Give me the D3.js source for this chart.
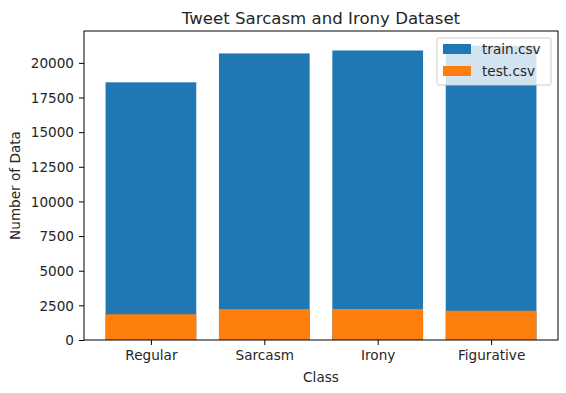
<!DOCTYPE html>
<html><head><meta charset="utf-8">
<script src="https://cdn.jsdelivr.net/npm/d3@7"></script>
<style>body{margin:0;background:#fff}svg{display:block}text{font-family:"DejaVu Sans",sans-serif;fill:#262626}</style>
</head><body>
<svg id="c" width="566" height="393"></svg>
<script>
const categories = ["Regular", "Sarcasm", "Irony", "Figurative"];
const trainValues = [18595, 20681, 20894, 21238];
const testValues = [1859, 2230, 2240, 2110];
const yTicks = [0, 2500, 5000, 7500, 10000, 12500, 15000, 17500, 20000];
const seriesNames = ["train.csv", "test.csv"];
const colors = ["#1f77b4", "#ff7f0e"];

const svg = d3.select("#c");
const L = 84, R = 558, T = 31, B = 340;
const FS = 13.6;

const x = d3.scaleLinear().domain([-0.59, 3.59]).range([L, R]);
const yMax = d3.max(trainValues) * 1.05;
const y = d3.scaleLinear().domain([0, yMax]).range([B, T]);
const bw = 0.8;

const g = svg.append("g");
[trainValues, testValues].forEach((vals, si) => {
  g.selectAll(null).data(vals).enter().append("rect")
    .attr("x", (d, i) => x(i - bw / 2))
    .attr("width", (d, i) => x(i + bw / 2) - x(i - bw / 2))
    .attr("y", d => y(d))
    .attr("height", d => y(0) - y(d))
    .attr("fill", colors[si]);
});

// axes
const xAxis = d3.axisBottom(x).tickValues(d3.range(categories.length))
  .tickFormat(i => categories[i]).tickSize(5).tickPadding(5);
const yAxis = d3.axisLeft(y).tickValues(yTicks).tickFormat(d3.format("d")).tickSize(5).tickPadding(5);
const gx = svg.append("g").attr("transform", `translate(0,${B})`).call(xAxis);
const gy = svg.append("g").attr("transform", `translate(${L},0)`).call(yAxis);
[gx, gy].forEach(a => {
  a.attr("font-size", FS).attr("font-family", "DejaVu Sans");
  a.select(".domain").remove();
  a.selectAll("line").attr("stroke", "#000").attr("stroke-width", 1);
  a.selectAll("text").attr("fill", "#262626");
});
gx.selectAll("text").attr("dy", "0.76em");
gy.selectAll("text").attr("dy", "0.35em");

// frame
svg.append("rect").attr("x", L).attr("y", T).attr("width", R - L).attr("height", B - T)
  .attr("fill", "none").attr("stroke", "#000").attr("stroke-width", 1);

// title and labels
svg.append("text").attr("x", (L + R) / 2).attr("y", 24).attr("text-anchor", "middle")
  .attr("font-size", 16.6).text("Tweet Sarcasm and Irony Dataset");
svg.append("text").attr("x", (L + R) / 2).attr("y", 382).attr("text-anchor", "middle")
  .attr("font-size", FS).text("Class");
svg.append("text").attr("transform", `translate(20,${(T + B) / 2}) rotate(-90)`)
  .attr("text-anchor", "middle").attr("font-size", FS).text("Number of Data");

// legend
const lg = svg.append("g");
lg.append("rect").attr("x", 437).attr("y", 38).attr("width", 114).attr("height", 47).attr("rx", 2)
  .attr("fill", "#fff").attr("fill-opacity", 0.8).attr("stroke", "#ccc").attr("stroke-width", 1);
seriesNames.forEach((s, i) => {
  const yy = 49 + i * 22;
  lg.append("rect").attr("x", 443).attr("y", yy - 5).attr("width", 28).attr("height", 10).attr("fill", colors[i]);
  lg.append("text").attr("x", 482).attr("y", yy + 5).attr("font-size", FS).text(s);
});
</script>
</body></html>
